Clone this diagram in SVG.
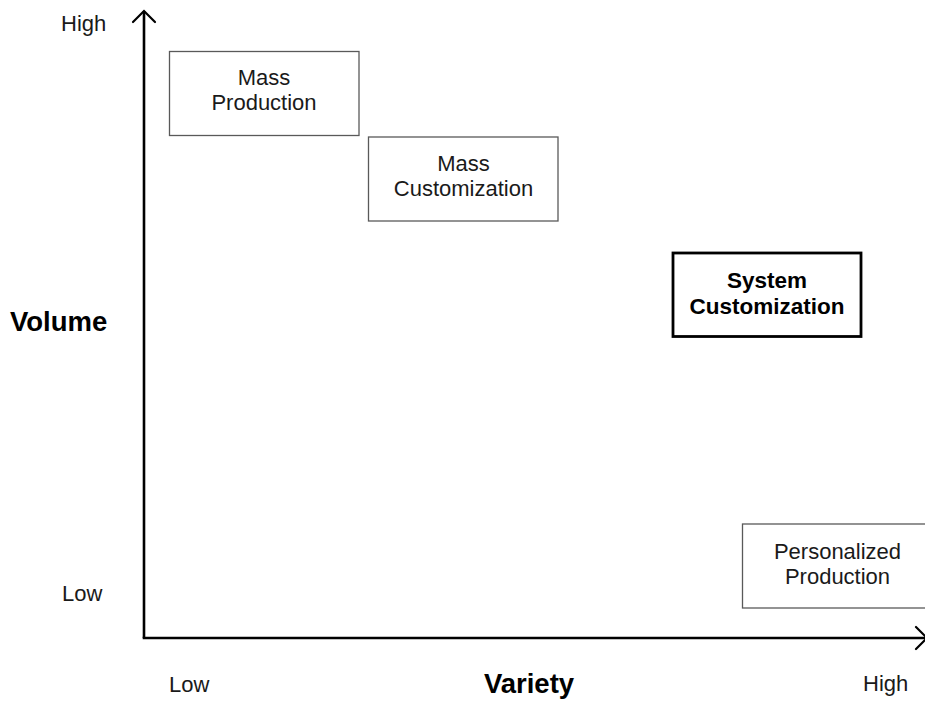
<svg xmlns="http://www.w3.org/2000/svg" width="925" height="701" viewBox="0 0 925 701">
  <style>
    .box { fill: #ffffff; stroke: #595959; stroke-width: 1.3; }
    .boxb { fill: #ffffff; stroke: #000000; stroke-width: 2.8; }
    .t { font-family: "Liberation Sans", Arial, sans-serif; font-size: 22px; fill: #1a1a1a; text-anchor: middle; }
    .tb { font-family: "Liberation Sans", Arial, sans-serif; font-size: 22.5px; font-weight: bold; fill: #000000; text-anchor: middle; }
    .lbl { font-family: "Liberation Sans", Arial, sans-serif; font-size: 22px; fill: #1a1a1a; }
    .ax { font-family: "Liberation Sans", Arial, sans-serif; font-size: 27.5px; font-weight: bold; fill: #000000; }
    .axis { stroke: #000000; stroke-width: 2.6; fill: none; }
    .head { stroke: #000000; stroke-width: 2.2; fill: none; stroke-linecap: round; stroke-linejoin: miter; }
  </style>
  <rect width="925" height="701" fill="#ffffff"/>

  <g id="connectors">
    <line class="axis" x1="144" y1="638" x2="144" y2="11"/>
    <polyline class="head" points="133,22 144,11 155,22"/>
    <line class="axis" x1="142.7" y1="638" x2="926" y2="638"/>
    <polyline class="head" points="916,627 927,638 916,649"/>
  </g>

  <g id="axis-labels">
    <text class="lbl" x="61" y="31">High</text>
    <text class="lbl" x="62" y="601">Low</text>
    <text class="ax" x="10" y="331">Volume</text>
    <text class="lbl" x="169" y="692">Low</text>
    <text class="ax" x="529" y="693" text-anchor="middle">Variety</text>
    <text class="lbl" x="863" y="691">High</text>
  </g>

  <g id="mass-production">
    <rect class="box" x="169.5" y="51.5" width="189.5" height="84"/>
    <text class="t" x="264" y="85">Mass</text>
    <text class="t" x="264" y="110">Production</text>
  </g>

  <g id="mass-customization">
    <rect class="box" x="368.5" y="137" width="189.5" height="84"/>
    <text class="t" x="463.5" y="171">Mass</text>
    <text class="t" x="463.5" y="196">Customization</text>
  </g>

  <g id="system-customization">
    <rect class="boxb" x="673" y="253" width="188" height="83.5"/>
    <text class="tb" x="767" y="288">System</text>
    <text class="tb" x="767" y="314">Customization</text>
  </g>

  <g id="personalized-production">
    <rect class="box" x="742.5" y="524" width="190" height="84"/>
    <text class="t" x="837.5" y="559">Personalized</text>
    <text class="t" x="837.5" y="584">Production</text>
  </g>
</svg>
